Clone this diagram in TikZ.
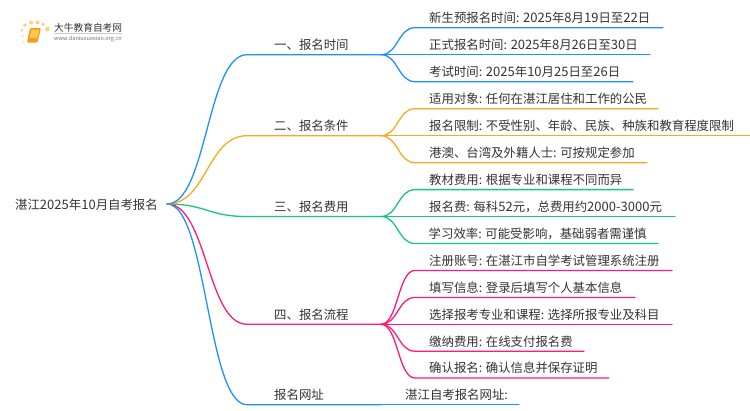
\documentclass[tikz,border=0pt]{standalone}
\usepackage{fontspec}
\setmainfont{Noto Sans CJK SC}
\newfontface\latface[Scale=1.05]{Noto Sans CJK SC}
\newcommand{\lt}[1]{{\latface #1}}
\definecolor{cblue}{HTML}{1E90FF}
\definecolor{corange}{HTML}{FFA81E}
\definecolor{cgreen}{HTML}{14C97D}
\definecolor{cpink}{HTML}{FF1A78}
\definecolor{ctext}{HTML}{333333}
\definecolor{cdot}{HTML}{FFD27A}
\definecolor{cbook}{HTML}{F59A1B}
\definecolor{cpage}{HTML}{FFC94D}
\tikzset{
  x=1pt,y=-1pt,
  lbl/.style={anchor=base west,inner sep=0pt,text=ctext,font=\fontsize{12.4}{14}\selectfont},
  wire/.style={line width=1.3pt,line cap=round},
  logotxt/.style={anchor=base west,inner sep=0pt,text=#1},
}
\usetikzlibrary{calc}
% \leaf{name}{colour}{junction}{y}{end x}{text x}{text}
\newcommand{\leaf}[7]{%
  \coordinate (#1s) at (415,#4);
  \coordinate (#1e) at (#5,#4);
  \node[lbl] (#1) at (#6,#4-5.2) {#7};
  \draw[wire,#2] (#3) .. controls ($(#3)+(17,0)$) and ($(#1s)+(-17,0)$) .. (#1s) -- (#1e);
}
% \branch{name}{colour}{y}{junction x}{text}
\newcommand{\branch}[5]{%
  \coordinate (#1s) at (247,#3);
  \coordinate (#1j) at (#4,#3);
  \node[lbl] (#1) at (274,#3-5.2) {#5};
  \draw[wire,#2] (root) .. controls ($(root)+(40,0)$) and ($(#1s)+(-40,0)$) .. (#1s) -- (#1j);
}
\begin{document}
\begin{tikzpicture}
\useasboundingbox (0,0) rectangle (750,410);
\coordinate (root) at (167,204);
\node[lbl] (title) at (15,209.5) {湛江\lt{2025}年\lt{10}月自考报名};
\branch{b5}{cblue}{404.7}{381}{报名网址}
\branch{b4}{cpink}{324.3}{381}{四、报名流程}
\branch{b3}{cgreen}{216.5}{381}{三、报名费用}
\branch{b2}{corange}{135.7}{381}{二、报名条件}
\branch{b1}{cblue}{54.7}{381}{一、报名时间}
\leaf{a1}{cblue}{b1j}{27.7}{663}{429}{新生预报名时间: \lt{2025}年\lt{8}月\lt{19}日至\lt{22}日}
\leaf{a2}{cblue}{b1j}{54.7}{650}{429}{正式报名时间: \lt{2025}年\lt{8}月\lt{26}日至\lt{30}日}
\leaf{a3}{cblue}{b1j}{81.7}{633}{429}{考试时间: \lt{2025}年\lt{10}月\lt{25}日至\lt{26}日}
\leaf{c1}{corange}{b2j}{108.7}{658}{429}{适用对象: 任何在湛江居住和工作的公民}
\leaf{c2}{corange}{b2j}{135.7}{750}{429}{报名限制: 不受性别、年龄、民族、种族和教育程度限制}
\leaf{c3}{corange}{b2j}{162.7}{647}{429}{港澳、台湾及外籍人士: 可按规定参加}
\leaf{d1}{cgreen}{b3j}{189.6}{633}{429}{教材费用: 根据专业和课程不同而异}
\leaf{d2}{cgreen}{b3j}{216.5}{675}{429}{报名费: 每科\lt{52}元，总费用约\lt{2000-3000}元}
\leaf{d3}{cgreen}{b3j}{243.5}{658}{428.5}{学习效率: 可能受影响，基础弱者需谨慎}
\leaf{e1}{cpink}{b4j}{270.4}{672}{429}{注册账号: 在湛江市自学考试管理系统注册}
\leaf{e2}{cpink}{b4j}{297.4}{635}{429}{填写信息: 登录后填写个人基本信息}
\leaf{e3}{cpink}{b4j}{324.3}{672}{429}{选择报考专业和课程: 选择所报专业及科目}
\leaf{e4}{cpink}{b4j}{351.2}{584}{429}{缴纳费用: 在线支付报名费}
\leaf{e5}{cpink}{b4j}{378}{609}{429}{确认报名: 确认信息并保存证明}
\coordinate (f1e) at (519,404.7);
\node[lbl] (f1) at (405,399.5) {湛江自考报名网址:};
\draw[wire,cblue] (b5j) -- (f1e);
% logo
\fill[cdot] (22,30) circle (1.5) (25,25) circle (1.9) (31,22.5) circle (2) (37.5,22.3) circle (2) (43,24.3) circle (1.9) (47.5,29) circle (2.3);
\fill[cdot!60!white] (22.5,36) circle (1.3) (23.5,42) circle (1);
\fill[cbook,rounded corners=1.2pt] (30,28) -- (41,28) -- (37.5,42.5) -- (27,42.5) -- cycle;
\fill[cpage] (31.5,29.5) -- (39.3,29.5) -- (37.2,38) -- (29.5,38) -- cycle;
\node[logotxt=black!80,font=\fontsize{9.7}{10}\selectfont] (logoa) at (54,31.5) {大牛教育自考网};
\node[logotxt=black!55,font=\fontsize{5.6}{6}\selectfont] (logob) at (54,40.5) {www.daniuxuexiao.org.cn};
\draw[black!20,line width=0.5pt] (54,33.5) -- (122,33.5);
\end{tikzpicture}
\end{document}
